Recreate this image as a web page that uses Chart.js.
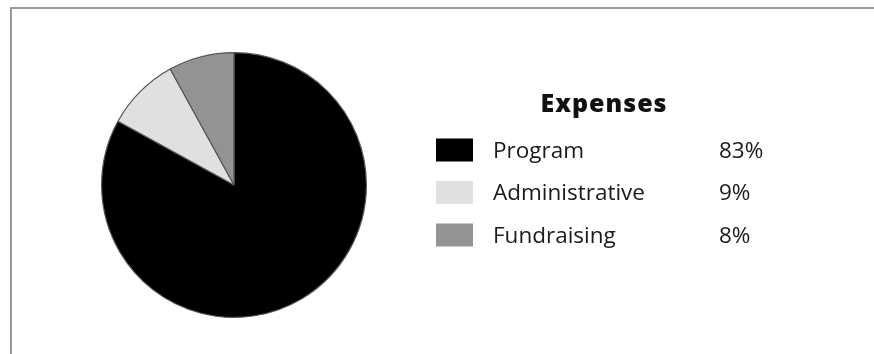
<!DOCTYPE html>
<html>
<head>
<meta charset="utf-8">
<script src="https://cdn.jsdelivr.net/npm/chart.js@4"></script>
<style>
  html, body { margin: 0; padding: 0; background: #fff; overflow: hidden; }
  #wrap { position: relative; width: 874px; height: 354px; }
  #frame { position: absolute; left: 10px; top: 7px; width: 880px; height: 360px;
           border: 2px solid #9a9a9a; box-sizing: border-box; }
  canvas { position: absolute; left: 0; top: 0; }
</style>
</head>
<body>
<div id="wrap">
  <div id="frame"></div>
  <canvas id="expenses__pie" width="874" height="354"></canvas>
</div>
<script>
// Expenses pie

const title = 'Expenses';
const labels = ['Program', 'Administrative', 'Fundraising'];
const values = [83, 9, 8];
const colors = ['#000000', '#e0e0e0', '#939393'];

// legend drawn on the canvas, next to the pie
const sideLegend = {
  id: 'sideLegend',
  afterDraw(chart) {
    const ctx = chart.ctx;
    const ds = chart.data.datasets[0];
    ctx.save();
    ctx.fillStyle = '#111';
    ctx.textBaseline = 'middle';
    ctx.textAlign = 'center';
    ctx.font = '800 25px "Open Sans", sans-serif';
    ctx.letterSpacing = '1px';
    ctx.fillText(title, 604, 105);
    ctx.letterSpacing = '0px';

    ctx.font = '22.5px "Open Sans", sans-serif';
    ctx.textAlign = 'left';
    chart.data.labels.forEach((lab, i) => {
      const y = 150 + i * 42.5;
      ctx.fillStyle = ds.backgroundColor[i];
      ctx.fillRect(436, y - 11.5, 37, 23);
      ctx.fillStyle = '#1a1a1a';
      ctx.fillText(lab, 493, y + 1.5);
      ctx.fillText(ds.data[i] + '%', 719, y + 1.5);
    });
    ctx.restore();
  }
};

const data1 = {
  labels: labels,
  datasets: [{
    data: values,
    backgroundColor: colors,
    borderColor: '#555555',
    borderWidth: 1.2
  }]
};

const config1 = {
  type: 'pie',
  data: data1,
  options: {
    responsive: false,
    animation: false,
    layout: { padding: { left: 101, right: 507, top: 52, bottom: 36 } },
    plugins: {
      legend: { display: false },
      tooltip: { enabled: false }
    }
  },
  plugins: [sideLegend]
};

const myChart1 = new Chart(document.getElementById('expenses__pie'), config1);
</script>
</body>
</html>
